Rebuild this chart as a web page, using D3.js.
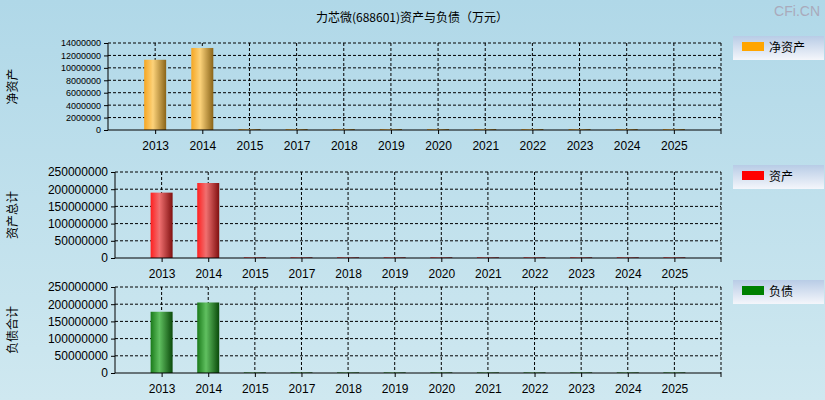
<!DOCTYPE html><html><head><meta charset="utf-8"><script src="https://cdn.jsdelivr.net/npm/d3@7"></script>
<style>body{margin:0}svg{display:block}</style></head><body><svg width="825" height="400"></svg><script>
const years=["2013","2014","2015","2017","2018","2019","2020","2021","2022","2023","2024","2025"];
const netAssets=[11300000,13200000,150000,150000,150000,150000,150000,150000,150000,150000,150000,150000];
const assets=[190000000,218000000,2000000,2000000,2000000,2000000,2000000,2000000,2000000,2000000,2000000,2000000];
const liabilities=[178000000,205000000,1800000,1800000,1800000,1800000,1800000,1800000,1800000,1800000,1800000,1800000];
const ticksTop=[0,2000000,4000000,6000000,8000000,10000000,12000000,14000000];
const ticksBig=[0,50000000,100000000,150000000,200000000,250000000];
const svg=d3.select("svg");
const defs=svg.append("defs");
const bg=defs.append("linearGradient").attr("id","bg").attr("x1",0).attr("y1",0).attr("x2",0).attr("y2",1);
bg.append("stop").attr("offset",0).attr("stop-color","#b0d8e8");bg.append("stop").attr("offset",1).attr("stop-color","#cfe8f0");
svg.append("rect").attr("width",825).attr("height",400).attr("fill","url(#bg)");
function grad(id,c1,c2,c3){const g=defs.append("linearGradient").attr("id",id);
g.append("stop").attr("offset",0).attr("stop-color",c1);g.append("stop").attr("offset",0.4).attr("stop-color",c2);g.append("stop").attr("offset",1).attr("stop-color",c3);}
grad("g1","#f5a623","#fcd27a","#8a6418");grad("g2","#ff2020","#f07070","#801010");grad("g3","#1a7a1a","#60c060","#0a4a0a");
const lg=defs.append("linearGradient").attr("id","lg").attr("x1",0).attr("y1",0).attr("x2",0).attr("y2",1);
lg.append("stop").attr("offset",0).attr("stop-color","#b8cce6");lg.append("stop").attr("offset",1).attr("stop-color","#f4f6fb");
svg.append("text").attr("x",412).attr("y",22).attr("text-anchor","middle").attr("font-size",12).attr("font-family","Noto Sans CJK SC").text("力芯微(688601)资产与负债（万元）");
svg.append("text").attr("x",820).attr("y",16).attr("text-anchor","end").attr("font-size",14).attr("fill","#aab").attr("font-family","Arial").text("CFi.CN");
function panel(left,top,bot,data,ticks,max,fill,legColor,legText,ylab,fs){
 const x=d3.scalePoint().domain(years).range([left,721]).padding(1);
 const y=d3.scaleLinear().domain([0,max]).range([bot,top]);
 const g=svg.append("g");
 ticks.slice(1).forEach(t=>g.append("line").attr("x1",left).attr("x2",721).attr("y1",y(t)).attr("y2",y(t)).attr("stroke","#000").attr("stroke-dasharray","3,2"));
 years.forEach(yr=>g.append("line").attr("x1",x(yr)).attr("x2",x(yr)).attr("y1",top).attr("y2",bot).attr("stroke","#000").attr("stroke-dasharray","3,2"));
 g.append("line").attr("x1",721).attr("x2",721).attr("y1",top).attr("y2",bot).attr("stroke","#000").attr("stroke-dasharray","3,2");
 g.selectAll("rect.b").data(data).join("rect").attr("x",(d,i)=>x(years[i])-11).attr("width",22).attr("y",d=>y(d)).attr("height",d=>bot-y(d)).attr("fill",fill);
 g.append("g").attr("transform",`translate(${left},0)`).call(d3.axisLeft(y).tickValues(ticks).tickSize(4).tickFormat(d3.format("d"))).call(a=>{a.selectAll("text").attr("font-size",fs).attr("font-family","Arial").attr("fill","#000");a.select(".domain").remove();});
 g.append("line").attr("x1",left).attr("x2",left).attr("y1",top).attr("y2",bot).attr("stroke","#000");
 g.append("g").attr("transform",`translate(0,${bot})`).call(d3.axisBottom(x).tickSize(4).tickSizeOuter(0)).call(a=>{a.selectAll("text").attr("font-size",12).attr("font-family","Arial").attr("fill","#000").attr("dy","1.1em");a.select(".domain").attr("d",`M${left},0H721`);});
 g.append("line").attr("x1",721).attr("x2",721).attr("y1",bot).attr("y2",bot+4).attr("stroke","#000");
 svg.append("rect").attr("x",733).attr("y",top-7).attr("width",91).attr("height",24).attr("fill","url(#lg)");
 svg.append("rect").attr("x",742).attr("y",top-1).attr("width",22).attr("height",9).attr("fill",legColor);
 svg.append("text").attr("x",769).attr("y",top+9).attr("font-size",12).attr("font-family","Noto Sans CJK SC").text(legText);
 svg.append("text").attr("transform",`translate(17,${(top+bot)/2}) rotate(-90)`).attr("text-anchor","middle").attr("font-size",12).attr("font-family","Noto Sans CJK SC").text(ylab);
}
panel(108,43,130,netAssets,ticksTop,14000000,"url(#g1)","#ffa500","净资产","净资产",9);
panel(115,172,258,assets,ticksBig,250000000,"url(#g2)","#ff0000","资产","资产总计",12);
panel(115,287,373,liabilities,ticksBig,250000000,"url(#g3)","#008000","负债","负债合计",12);
</script></body></html>
